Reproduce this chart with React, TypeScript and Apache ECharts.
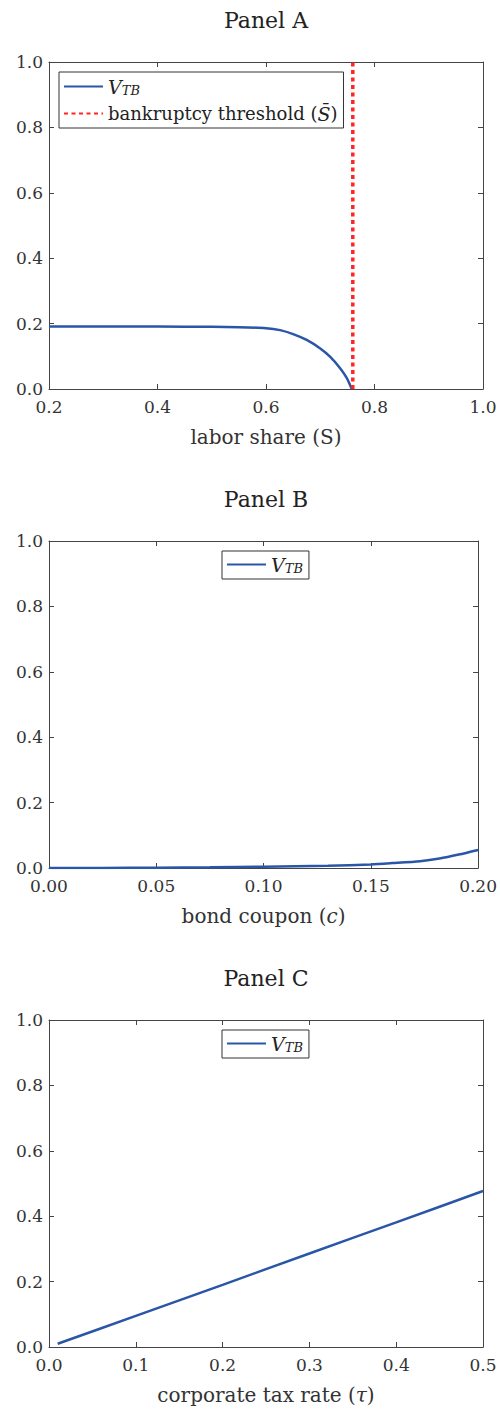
import React, { useEffect, useRef } from "react";
import * as echarts from "echarts";

const FONT = "DejaVu Serif";
const BLUE = "#2a56a8";
const RED = "#ff2525";
const AX = "#444444";

// Panel A: labor share vs V_TB
const SA = [0.2, 0.3, 0.4, 0.5, 0.55, 0.6, 0.626, 0.65, 0.675, 0.7, 0.718, 0.737, 0.749, 0.758];
const VA = [0.191, 0.191, 0.191, 0.19, 0.189, 0.186, 0.18, 0.168, 0.15, 0.124, 0.099, 0.063, 0.033, 0.0];
const THRESHOLD = 0.76;
// Panel B: bond coupon vs V_TB
const SB = [0, 0.025, 0.05, 0.075, 0.1, 0.13, 0.15, 0.16, 0.173, 0.182, 0.191, 0.2];
const VB = [0, 0, 0.001, 0.002, 0.004, 0.007, 0.011, 0.015, 0.021, 0.029, 0.041, 0.055];
// Panel C: corporate tax rate vs V_TB
const SC = [0.01, 0.1, 0.2, 0.3, 0.4, 0.5];
const VC = [0.01, 0.095, 0.19, 0.286, 0.381, 0.477];

const TITLES = ["Panel A", "Panel B", "Panel C"];
const XNAMES = ["labor share (S)", "bond coupon ({it|c})", "corporate tax rate ({it|\u03c4})"];
const XRANGES = [
  { min: 0.2, max: 1.0, interval: 0.2, dec: 1 },
  { min: 0, max: 0.2, interval: 0.05, dec: 2 },
  { min: 0, max: 0.5, interval: 0.1, dec: 1 },
];

const GRID_TOPS = [62, 541, 1020];
const GRID_H = 327;

export default function App() {
  const ref = useRef<HTMLDivElement>(null);
  useEffect(() => {
    if (!ref.current) return;
    const chart = echarts.init(ref.current, undefined, { renderer: "svg" });
    const rich = {
      it: { fontStyle: "italic", fontFamily: FONT, fontSize: 19, color: "#222" },
      sub: { fontStyle: "italic", fontFamily: FONT, fontSize: 13, color: "#222", padding: [8, 0, 0, 0] },
    };
    const grids = GRID_TOPS.map((t) => ({ left: 49, top: t, width: 434, height: GRID_H }));
    const xAxes: any[] = [];
    const yAxes: any[] = [];
    XRANGES.forEach((r, i) => {
      const common = {
        gridIndex: i,
        type: "value",
        min: r.min,
        max: r.max,
        interval: r.interval,
        splitLine: { show: false },
        axisLine: { show: true, onZero: false, lineStyle: { color: AX, width: 1 } },
        axisTick: { show: true, inside: true, length: 5, lineStyle: { color: AX } },
      };
      xAxes.push({
        ...common,
        position: "bottom",
        name: XNAMES[i],
        nameLocation: "middle",
        nameGap: 38,
        nameTextStyle: {
          fontFamily: FONT,
          fontSize: 20,
          color: "#333",
          rich: { it: { fontStyle: "italic", fontFamily: FONT, fontSize: 20, color: "#333" } },
        },
        axisLabel: {
          fontFamily: FONT,
          fontSize: 17,
          color: "#333",
          margin: 9,
          formatter: (v: number) => v.toFixed(r.dec),
        },
      });
      xAxes.push({ ...common, position: "top", axisLabel: { show: false } });
      const ycommon = {
        gridIndex: i,
        type: "value",
        min: 0,
        max: 1,
        interval: 0.2,
        splitLine: { show: false },
        axisLine: { show: true, onZero: false, lineStyle: { color: AX, width: 1 } },
        axisTick: { show: true, inside: true, length: 5, lineStyle: { color: AX } },
      };
      yAxes.push({
        ...ycommon,
        position: "left",
        axisLabel: { fontFamily: FONT, fontSize: 17, color: "#333", margin: 6, formatter: (v: number) => v.toFixed(1) },
      });
      yAxes.push({ ...ycommon, position: "right", axisLabel: { show: false } });
    });

    const lineSeries = (name: string, xs: number[], ys: number[], idx: number) => ({
      name,
      type: "line",
      xAxisIndex: idx * 2,
      yAxisIndex: idx * 2,
      data: xs.map((x, k) => [x, ys[k]]),
      symbol: "none",
      smooth: 0.25,
      lineStyle: { color: BLUE, width: 2.5 },
      itemStyle: { color: BLUE },
    });

    const legendFormatter = (name: string) =>
      name === "thr" ? "bankruptcy threshold ({it|S\u0304})" : "{it|V}{sub|TB}";
    const legendCommon = {
      formatter: legendFormatter,
      itemWidth: 39,
      itemHeight: 14,
      itemGap: 7,
      orient: "vertical",
      backgroundColor: "#fff",
      borderColor: "#333",
      borderWidth: 1,
      borderRadius: 0,
      itemStyle: { opacity: 0, borderWidth: 0 },
      textStyle: { fontFamily: FONT, fontSize: 18, color: "#222", rich },
    };

    chart.setOption({
      animation: false,
      backgroundColor: "#fff",
      title: TITLES.map((t, i) => ({
        text: t,
        left: 261,
        textAlign: "center",
        top: 4 + i * 479,
        textStyle: { fontFamily: FONT, fontSize: 22, fontWeight: "normal", color: "#222" },
      })),
      grid: grids,
      xAxis: xAxes,
      yAxis: yAxes,
      legend: [
        { ...legendCommon, data: ["A", "thr"], left: 59, top: 72, padding: [5, 6, 5, 4] },
        { ...legendCommon, data: ["B"], left: 222, top: 551, padding: [4, 6, 4, 4] },
        { ...legendCommon, data: ["C"], left: 222, top: 1030, padding: [4, 6, 4, 4] },
      ],
      series: [
        lineSeries("A", SA, VA, 0),
        {
          name: "thr",
          type: "line",
          xAxisIndex: 0,
          yAxisIndex: 0,
          data: [
            [THRESHOLD, 0],
            [THRESHOLD, 1],
          ],
          symbol: "none",
          lineStyle: { color: RED, width: 3.5, type: [4, 3.5] },
          itemStyle: { color: RED },
        },
        lineSeries("B", SB, VB, 1),
        lineSeries("C", SC, VC, 2),
      ],
    });
    return () => chart.dispose();
  }, []);
  return (
    <div
      ref={ref}
      style={{ position: "absolute", left: 0, top: 0, width: 500, height: 1411 }}
    />
  );
}
